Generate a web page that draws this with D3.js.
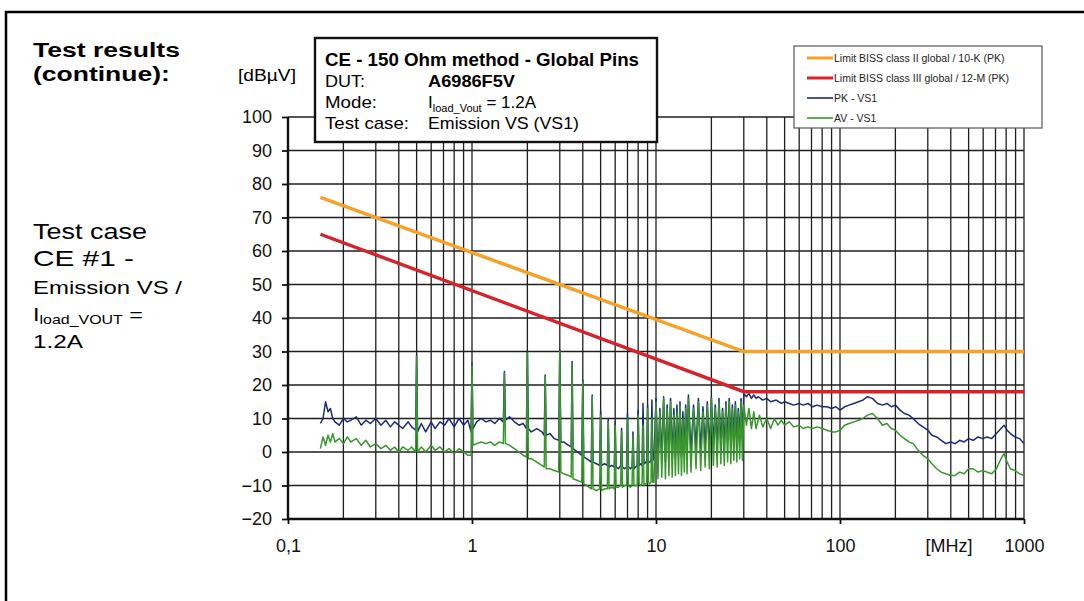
<!DOCTYPE html>
<html>
<head>
<meta charset="utf-8">
<script src="https://cdn.jsdelivr.net/npm/d3@7"></script>
<style>
  body { margin: 0; background: #fff; }
  text { font-family: "Liberation Sans", Arial, sans-serif; }
</style>
</head>
<body>
<div id="chart"></div>
<script>
// CE 150 Ohm emission plot, PK / AV traces against BISS limits

var width = 1084, height = 601;

// axis ticks
var yTickVals = [-20, -10, 0, 10, 20, 30, 40, 50, 60, 70, 80, 90, 100];
var xTickVals = [0.1, 1, 10, 100, 1000];
var xTickLabels = ["0,1", "1", "10", "100", "1000"];

// limit lines [MHz, dBuV]
var limitII = [[0.15, 76], [30, 30], [1000, 30]];
var limitIII = [[0.15, 65], [30, 18], [1000, 18]];

var legendLabels = ["Limit BISS class II global / 10-K (PK)",
                    "Limit BISS class III global / 12-M (PK)",
                    "PK - VS1", "AV - VS1"];
var legendColors = ["#f6a127", "#d8222b", "#1d2a78", "#38962c"];

// peak detector trace [MHz, dBuV]
var pkData = [
  [0.15,8.5],[0.155,10],[0.16,15],[0.165,12],[0.17,13],[0.175,10],[0.18,9],[0.19,8],[0.2,10],[0.21,9],
  [0.22,9.5],[0.235,10.5],[0.25,8],[0.265,9.5],[0.28,8.5],[0.3,10],[0.32,8],[0.34,9.5],[0.36,7.5],[0.38,9],
  [0.4,8],[0.42,7],[0.45,9],[0.47,7.5],[0.494,6.5],[0.5,29],[0.506,6],[0.53,8.5],[0.56,6],[0.6,9],
  [0.63,7],[0.67,9],[0.71,8],[0.75,10],[0.8,7.5],[0.85,10],[0.9,8],[0.95,9.5],[0.988,6],[1.0,26.5],
  [1.012,7],[1.06,9],[1.12,10],[1.19,9],[1.26,9.5],[1.33,8.5],[1.41,10],[1.48,9],[1.5,24],[1.52,9.5],
  [1.6,10.5],[1.7,9],[1.8,8],[1.9,8.5],[1.976,7],[2.0,30],[2.024,7],[2.1,6],[2.25,7],[2.4,6],
  [2.47,5],[2.5,23],[2.53,5],[2.65,5.5],[2.8,4],[2.96,3.5],[3.0,30.5],[3.04,3],[3.15,3],[3.35,2],
  [3.46,1.5],[3.5,27],[3.54,1],[3.75,0],[3.95,-1],[4.0,21.5],[4.05,-1.5],[4.2,-2],[4.45,-3],[4.5,17],
  [4.55,-3],[4.75,-3.5],[4.94,-4],[5.0,12.5],[5.06,-4],[5.25,-3.5],[5.44,-4],[5.5,10],[5.56,-4.5],[5.75,-4],
  [5.93,-4.5],[6.0,9],[6.07,-4.5],[6.25,-5],[6.43,-4],[6.5,7],[6.57,-4.5],[6.75,-5],[6.92,-4.5],[7.0,11.5],
  [7.08,-4.5],[7.25,-5],[7.41,-4.5],[7.5,6],[7.59,-5],[7.75,-4.5],[7.9,-4],[8.0,12.5],[8.1,-4],[8.25,-3.5],
  [8.4,-4],[8.5,14.5],[8.6,-3.5],[8.75,-3],[8.9,-3.5],[9.0,14],[9.1,-3],[9.25,-3],[9.4,-2.5],[9.5,15.5],
  [9.6,-2.5],[9.75,-2],[10,16],[10.25,-3],[10.5,13],[10.75,-2],[11,16.5],[11.25,-3],[11.5,14],[11.75,-2],
  [12,16],[12.25,-2.5],[12.5,13],[12.75,-1.5],[13,14],[13.25,-1],[13.5,15],[13.75,-1.5],[14,12],[14.25,-0.5],
  [14.5,14],[14.75,-1],[15,17],[15.5,0],[16,14],[16.5,1],[17,16],[17.5,0.5],[18,13.5],[18.5,1.5],
  [19,15],[19.5,1],[20,16.5],[20.5,2],[21,14],[21.5,1.5],[22,16],[22.5,2.5],[23,13],[23.5,2],
  [24,15],[24.5,3],[25,16],[25.5,2.5],[26,14],[26.5,3.5],[27,15],[27.5,3],[28,13],[28.5,4],
  [29,16],[29.5,3.5],[30,17.5],[31,16.5],[32,17.5],[33,16],[34,17],[35,16],[36,16.5],[38,15.5],
  [40,16],[42,15],[45,15.5],[48,14.5],[50,15],[53,14.5],[56,14],[60,14.5],[63,14],[67,14.5],
  [71,13.5],[75,14],[80,13.5],[85,13.5],[90,13],[95,13.5],[100,12.5],[106,13.5],[112,14],[119,14.5],
  [126,15],[133,15.5],[141,16.5],[150,16],[160,14.5],[170,14],[180,14.5],[190,13.5],[200,14],[212,12.5],
  [224,11.5],[237,11],[250,10],[266,8.5],[282,7.5],[300,6.5],[316,5],[335,4.5],[355,3.5],[376,2.5],
  [400,3],[422,2.5],[447,3.5],[473,3],[500,4],[530,3.5],[562,4.5],[595,4],[630,4.5],[668,4],
  [708,5.5],[750,7],[780,8],[810,6.5],[843,5.5],[893,4.5],[946,4],[1000,2.5]
];

// average detector trace [MHz, dBuV]
var avData = [
  [0.15,1],[0.155,4.5],[0.16,2],[0.165,5],[0.17,3],[0.175,5.5],[0.18,3],[0.19,4],[0.2,2.5],[0.21,4.5],
  [0.22,3],[0.235,4],[0.25,2],[0.265,3.5],[0.28,1.5],[0.3,2.5],[0.32,1],[0.34,2],[0.36,0.5],[0.38,1.5],
  [0.4,0],[0.42,1.5],[0.45,0.5],[0.47,1.5],[0.494,0],[0.5,28.5],[0.506,0],[0.53,1.5],[0.56,0],[0.6,2],
  [0.63,0.5],[0.67,1.5],[0.71,0],[0.75,1],[0.8,-0.5],[0.85,1],[0.9,0],[0.95,-1],[0.988,-1],[1.0,26],
  [1.012,2],[1.06,2.5],[1.12,3],[1.19,2.5],[1.26,3],[1.33,2],[1.41,3],[1.48,2.5],[1.5,23.5],[1.52,2.5],
  [1.6,2],[1.7,1],[1.8,0],[1.9,-1],[1.976,-1.5],[2.0,29.5],[2.024,-2],[2.1,-2],[2.25,-3],[2.4,-4],
  [2.47,-4.5],[2.5,22.5],[2.53,-5],[2.65,-5],[2.8,-5.5],[2.96,-6],[3.0,30],[3.04,-6],[3.15,-6.5],[3.35,-7],
  [3.46,-7.5],[3.5,26.5],[3.54,-8],[3.75,-8.5],[3.95,-9],[4.0,21],[4.05,-9.5],[4.2,-10],[4.45,-11],[4.5,16.5],
  [4.55,-11],[4.75,-11.5],[4.94,-11],[5.0,11],[5.06,-11.5],[5.25,-11],[5.44,-11],[5.5,9],[5.56,-11],[5.75,-10.5],
  [5.93,-11],[6.0,8],[6.07,-10.5],[6.25,-10.5],[6.43,-10],[6.5,6],[6.57,-10.5],[6.75,-10],[6.92,-10],[7.0,10],
  [7.08,-10],[7.25,-10.5],[7.41,-10],[7.5,5],[7.59,-10],[7.75,-10],[7.9,-10],[8.0,11],[8.1,-9.5],[8.25,-10],
  [8.4,-9.5],[8.5,8],[8.6,-10],[8.75,-9.5],[8.9,-9.5],[9.0,13],[9.1,-9],[9.25,-9.5],[9.4,-9],[9.5,10],
  [9.6,-9],[9.75,-9],[10,15],[10.25,-8],[10.5,12],[10.75,-7.5],[11,16],[11.25,-8],[11.5,13],[11.75,-7],
  [12,15],[12.25,-7.5],[12.5,11],[12.75,-7],[13,12],[13.25,-6.5],[13.5,14],[13.75,-7],[14,10],[14.25,-6],
  [14.5,13],[14.75,-6.5],[15,16],[15.5,-6],[16,13],[16.5,-5],[17,15],[17.5,-5.5],[18,12],[18.5,-4.5],
  [19,14],[19.5,-5],[20,16],[20.5,-4],[21,13],[21.5,-4.5],[22,15],[22.5,-3.5],[23,12],[23.5,-4],
  [24,14],[24.5,-3],[25,15],[25.5,-3.5],[26,13],[26.5,-2.5],[27,14],[27.5,-3],[28,12],[28.5,-2],
  [29,15],[29.5,-2.5],[30,14],[31,8],[32,13],[33,7],[34,12],[35,7],[36.5,11],[38,7.5],
  [40,10],[42,7],[44,10],[46,8],[48,9.5],[50,8],[53,9],[56,7.5],[60,8],[63,7],
  [67,7.5],[71,7],[75,7.5],[80,7],[85,6.5],[90,6],[95,6],[100,6.5],[106,8],[112,8.5],
  [119,9],[126,9.5],[133,10],[141,11],[150,11.5],[160,10],[170,8],[180,8.5],[190,7],[200,6.5],
  [212,5],[224,4],[237,3],[250,2.5],[266,0.5],[282,-1],[300,-2],[316,-3.5],[335,-5],[355,-6],
  [376,-6.5],[400,-7],[422,-7],[447,-6],[473,-6.5],[500,-5],[530,-5],[562,-6],[595,-5.5],[630,-6],
  [668,-6.5],[708,-5],[750,-2],[780,-0.5],[810,-3],[843,-5],[893,-5.5],[946,-6.5],[1000,-7]
];

var plot = {left: 288, right: 1024, top: 117, bottom: 519};

var x = d3.scaleLog().domain([0.1, 1000]).range([plot.left, plot.right]);
var y = d3.scaleLinear().domain([-20, 100]).range([plot.bottom, plot.top]);

var svg = d3.select("#chart").append("svg")
    .attr("width", width)
    .attr("height", height);

// page frame
svg.append("path")
    .attr("d", "M6,640 L6,12 L1090,12")
    .attr("fill", "none")
    .attr("stroke", "#000")
    .attr("stroke-width", 2.5);

function addText(str, px, py, size, weight, len) {
    var t = svg.append("text")
        .attr("x", px).attr("y", py)
        .attr("font-size", size)
        .attr("font-weight", weight)
        .attr("fill", "#000")
        .text(str);
    if (len) t.attr("textLength", len).attr("lengthAdjust", "spacingAndGlyphs");
    return t;
}
// stretch text horizontally to a target width (the source page is wide)
function stretch(t, len) {
    var w = t.node().getComputedTextLength();
    var px = +t.attr("x"), py = +t.attr("y");
    t.attr("transform", "translate(" + px + "," + py + ") scale(" + (len / w) + ",1) translate(" + (-px) + "," + (-py) + ")");
}

// left side notes
stretch(addText("Test results", 33, 57, 20, "bold"), 147);
stretch(addText("(continue):", 33, 81, 20, "bold"), 137);
stretch(addText("Test case", 33, 239, 22, "normal"), 114);
stretch(addText("CE #1 -", 33, 266, 22, "normal"), 101);
stretch(addText("Emission VS /", 33, 294, 19, "normal"), 149);
var il = addText("I", 33, 321, 19, "normal");
il.append("tspan").attr("font-size", 13).attr("dy", 3).text("load_VOUT");
il.append("tspan").attr("dy", -3).text(" =");
stretch(il, 110);
stretch(addText("1.2A", 33, 348, 19, "normal"), 50);

addText("[dB\u00b5V]", 238, 81, 17, "normal", 58);

// grid
var g = svg.append("g");
g.selectAll("line.vgrid")
    .data(x.ticks())
    .enter().append("line")
    .attr("class", "vgrid")
    .attr("x1", function(d) { return x(d); })
    .attr("x2", function(d) { return x(d); })
    .attr("y1", plot.top)
    .attr("y2", plot.bottom)
    .attr("stroke", "#1e1e1e")
    .attr("stroke-width", 1.3);
g.selectAll("line.hgrid")
    .data(yTickVals)
    .enter().append("line")
    .attr("class", "hgrid")
    .attr("x1", plot.left)
    .attr("x2", plot.right)
    .attr("y1", function(d) { return y(d); })
    .attr("y2", function(d) { return y(d); })
    .attr("stroke", "#1e1e1e")
    .attr("stroke-width", 1.3);

// axes
var yAxis = svg.append("g")
    .attr("transform", "translate(" + plot.left + ",0)")
    .call(d3.axisLeft(y).tickValues(yTickVals).tickSize(6).tickPadding(10).tickFormat(d3.format("d")));
var xAxis = svg.append("g")
    .attr("transform", "translate(0," + plot.bottom + ")")
    .call(d3.axisBottom(x).tickValues(xTickVals).tickSize(5).tickPadding(15)
          .tickFormat(function(d, i) { return xTickLabels[i]; }));
[yAxis, xAxis].forEach(function(a) {
    a.select(".domain").attr("stroke", "#111").attr("stroke-width", 2.4);
    a.selectAll(".tick line").attr("stroke", "#111").attr("stroke-width", 1.8);
    a.selectAll(".tick text")
        .attr("font-family", "Liberation Sans, Arial, sans-serif")
        .attr("font-size", 18)
        .attr("fill", "#111");
});
xAxis.select(".domain").attr("d", "M" + plot.left + ",0H" + plot.right);
yAxis.select(".domain").attr("d", "M0," + plot.bottom + "V" + plot.top);

svg.append("text")
    .attr("x", 949).attr("y", 552)
    .attr("text-anchor", "middle")
    .attr("font-size", 18)
    .attr("fill", "#111")
    .text("[MHz]");

// traces
var line = d3.line()
    .x(function(d) { return x(d[0]); })
    .y(function(d) { return y(d[1]); });

svg.append("path").datum(pkData)
    .attr("d", line).attr("fill", "none")
    .attr("stroke", legendColors[2]).attr("stroke-width", 1.5)
    .attr("stroke-linejoin", "round");
svg.append("path").datum(avData)
    .attr("d", line).attr("fill", "none")
    .attr("stroke", legendColors[3]).attr("stroke-width", 1.5)
    .attr("stroke-linejoin", "round");
svg.append("path").datum(limitII)
    .attr("d", line).attr("fill", "none")
    .attr("stroke", legendColors[0]).attr("stroke-width", 3.4);
svg.append("path").datum(limitIII)
    .attr("d", line).attr("fill", "none")
    .attr("stroke", legendColors[1]).attr("stroke-width", 3.4);

// info box
svg.append("rect")
    .attr("x", 315).attr("y", 38).attr("width", 342).attr("height", 104)
    .attr("fill", "#fff").attr("stroke", "#111").attr("stroke-width", 2.4);
addText("CE - 150 Ohm method - Global Pins", 325, 66, 18, "bold", 314);
addText("DUT:", 325, 87, 17, "normal", 40);
addText("A6986F5V", 428, 87, 17, "bold", 87);
addText("Mode:", 325, 108, 17, "normal", 52);
var md = addText("I", 428, 108, 17, "normal", null);
md.append("tspan").attr("font-size", 11).attr("dy", 4).text("load_Vout");
md.append("tspan").attr("dy", -4).text(" = 1.2A");
addText("Test case:", 325, 129, 17, "normal", 84);
addText("Emission VS (VS1)", 428, 129, 17, "normal", 151);

// legend
svg.append("rect")
    .attr("x", 794).attr("y", 46).attr("width", 248).attr("height", 82)
    .attr("fill", "#fff").attr("stroke", "#555").attr("stroke-width", 1.2);
var leg = svg.selectAll("g.leg")
    .data(legendLabels)
    .enter().append("g")
    .attr("class", "leg")
    .attr("transform", function(d, i) { return "translate(807," + (58 + i * 20) + ")"; });
leg.append("line")
    .attr("x1", 0).attr("x2", 26)
    .attr("stroke", function(d, i) { return legendColors[i]; })
    .attr("stroke-width", function(d, i) { return i < 2 ? 3 : 1.6; });
leg.append("text")
    .attr("x", 27).attr("y", 4)
    .attr("font-size", 10.5)
    .attr("fill", "#222")
    .text(function(d) { return d; });
</script>
</body>
</html>
